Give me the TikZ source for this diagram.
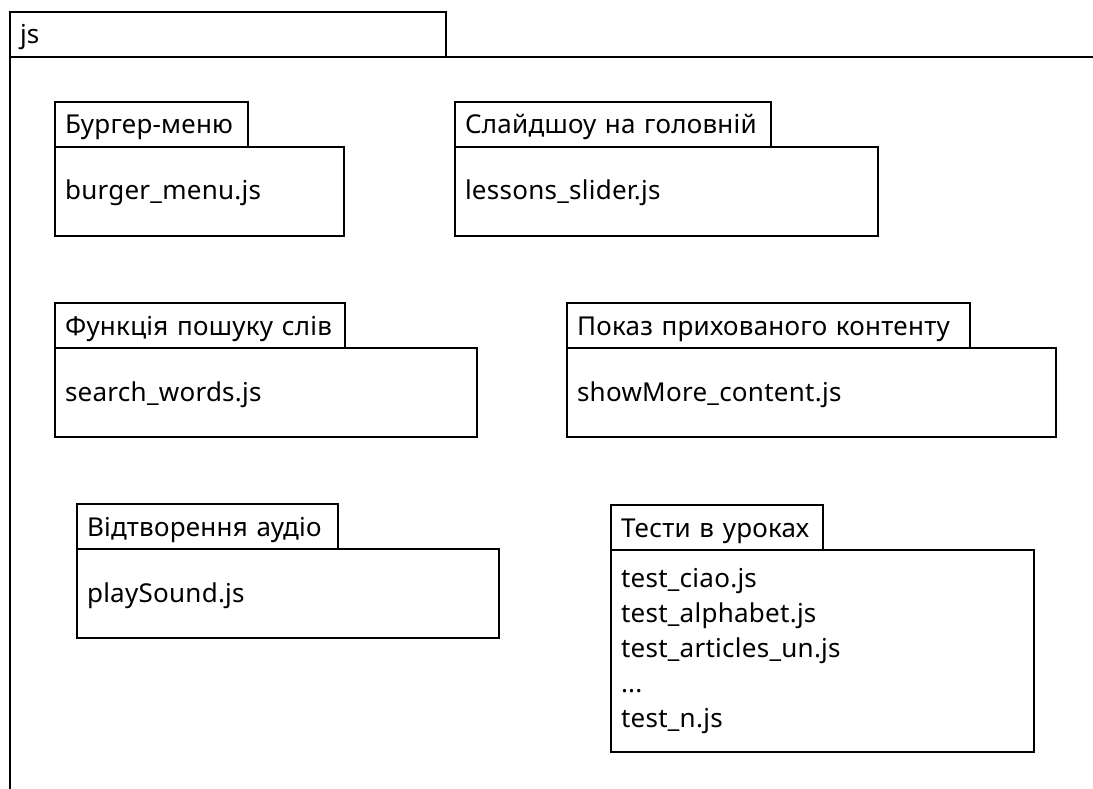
\documentclass[tikz,border=0pt]{standalone}
\usepackage{fontspec}
\setmainfont{Noto Sans}[LetterSpace=1]
\usetikzlibrary{positioning}
\begin{document}
\begin{tikzpicture}[x=1pt,y=-1pt,line width=1.8pt,
    tab/.style={draw,anchor=north west,outer sep=0pt,minimum height=45pt,inner xsep=10pt,inner ysep=0pt,
      align=left,text height=22pt,text depth=3pt,font=\fontsize{26}{35}\selectfont},
    pkgbody/.style={draw,anchor=north west,outer sep=0pt,inner xsep=10pt,align=left,
      font=\fontsize{26}{35}\selectfont},
    pkgline/.style={pkgbody,minimum height=89pt,text height=20pt,text depth=3pt}]
    \useasboundingbox (0,0) rectangle (1093,789);
    % outer package
    \node[tab,text width=416pt] (js) at (10,12) {js};
    \coordinate (jsright) at (1093,57);
    \coordinate (jsbottom) at (10,789);
    \draw (jsbottom) -- (js.south west) -- (jsright);
    % packages
    \node[tab,text width=173pt] (burger) at (55,102) {Бургер-меню};
    \node[pkgline,text width=269pt] (burgerb) at (burger.south west) {burger\_menu.js};
    \node[tab,text width=296pt] (slider) at (455,102) {Слайдшоу на головній};
    \node[pkgline,text width=403pt] (sliderb) at (slider.south west) {lessons\_slider.js};
    \node[tab,text width=270pt] (search) at (55,303) {Функція пошуку слів};
    \node[pkgline,text width=402pt] (searchb) at (search.south west) {search\_words.js};
    \node[tab,text width=383pt] (showmore) at (567,303) {Показ прихованого контенту};
    \node[pkgline,text width=469pt] (showmoreb) at (showmore.south west) {showMore\_content.js};
    \node[tab,text width=241pt] (audio) at (77,504) {Відтворення аудіо};
    \node[pkgline,text width=402pt] (audiob) at (audio.south west) {playSound.js};
    \node[tab,text width=192pt] (tests) at (611,505) {Тести в уроках};
    \node[pkgbody,text width=403pt,minimum height=202pt] (testsb) at (tests.south west)
      {test\_ciao.js\\test\_alphabet.js\\test\_articles\_un.js\\...\\test\_n.js};
\end{tikzpicture}
\end{document}
